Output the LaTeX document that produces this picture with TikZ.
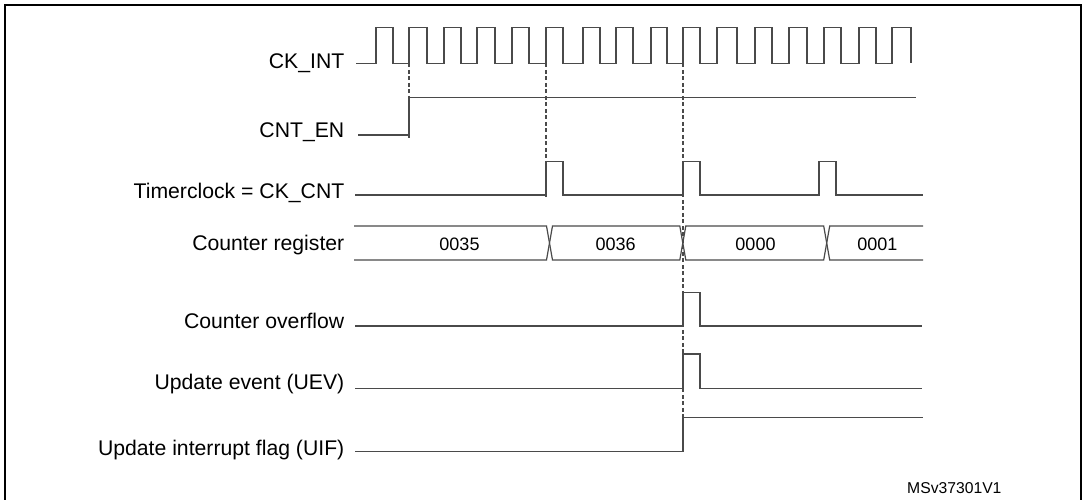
\documentclass[tikz,border=0pt]{standalone}
\usepackage{fontspec}
\setmainfont{Liberation Sans}
\definecolor{wavecol}{HTML}{4A4A4A}
\begin{document}
\begin{tikzpicture}[x=1pt,y=-1pt,
  wave/.style={draw=wavecol, line width=1.2pt, line join=miter},
  guide/.style={draw=wavecol, line width=1.1pt, dash pattern=on 4pt off 2.5pt},
  lbl/.style={anchor=base east, inner sep=0pt, font=\fontsize{21.2}{24}\selectfont},
  val/.style={anchor=base, inner sep=0pt, font=\fontsize{18}{20}\selectfont},
  framebox/.style={draw=black, line width=2.2pt}]
\useasboundingbox (0,0) rectangle (1085,500);
\fill[white] (0,0) rectangle (1085,500);
\draw[framebox] (5,510) -- (5,5) -- (1081,5) -- (1081,510);

% labels
\node[lbl] (lck)  at (344.5,68.3)  {CK\_INT};
\node[lbl] (len)  at (344.5,137.3) {CNT\_EN};
\node[lbl] (ltc)  at (344.5,198.5) {Timerclock = CK\_CNT};
\node[lbl] (lcr)  at (344.5,251)   {Counter register};
\node[lbl] (lov)  at (344.5,328.3) {Counter overflow};
\node[lbl] (luev) at (344.5,389.3) {Update event (UEV)};
\node[lbl] (luif) at (344.5,455)   {Update interrupt flag (UIF)};

% CK_INT
\draw[wave] (356,63.3) foreach \r/\f in {376/393, 409/427, 444/461, 477/495, 512/529, 546/563, 583/600, 616/633, 651/667, 683/700, 717/737, 755/772, 789/807, 824/841, 859/876, 892/911} { -- (\r,63.3) -- (\r,27.3) -- (\f,27.3) -- (\f,63.3) };

% CNT_EN
\draw[wave] (358,135) -- (409,135) -- (409,97.3) -- (916,97.3);

% Timerclock
\draw[wave] (355,195) -- (546,195) -- (546,161.7) -- (563,161.7) -- (563,195)
  -- (683,195) -- (683,161.7) -- (700,161.7) -- (700,195)
  -- (819,195) -- (819,161.7) -- (836,161.7) -- (836,195) -- (923,195);

% Counter register
\draw[wave] (354,226) -- (546.5,226) -- (549.5,243) -- (546.5,260) -- (354,260);
\draw[wave] (552.5,226) -- (679.8,226) -- (682.8,243) -- (679.8,260) -- (552.5,260) -- (549.5,243) -- cycle;
\draw[wave] (685.8,226) -- (823.7,226) -- (826.7,243) -- (823.7,260) -- (685.8,260) -- (682.8,243) -- cycle;
\draw[wave] (923,226) -- (829.7,226) -- (826.7,243) -- (829.7,260) -- (923,260);
\node[val] (v1) at (459.5,250) {0035};
\node[val] (v2) at (615.7,250) {0036};
\node[val] (v3) at (755.5,250) {0000};
\node[val] (v4) at (877.3,250) {0001};

% Counter overflow
\draw[wave] (355,326) -- (683,326) -- (683,292.7) -- (700,292.7) -- (700,326) -- (922,326);
% UEV
\draw[wave] (355,388.3) -- (683,388.3) -- (683,354) -- (700,354) -- (700,388.3) -- (922,388.3);
% UIF
\draw[wave] (355,451.7) -- (683,451.7) -- (683,417.7) -- (923,417.7);

% guides
\coordinate (g1a) at (409,63.3); \coordinate (g1b) at (409,138);
\coordinate (g2a) at (546,63.3); \coordinate (g2b) at (546,197);
\coordinate (g3a) at (683,63.3); \coordinate (g3b) at (683,452);
\draw[guide] (g1a) -- (g1b);
\draw[guide] (g2a) -- (g2b);
\draw[guide] (g3a) -- (g3b);

\node[anchor=base west, inner sep=0pt, font=\fontsize{15.7}{18}\selectfont] (ref) at (907,493) {MSv37301V1};
\end{tikzpicture}
\end{document}
